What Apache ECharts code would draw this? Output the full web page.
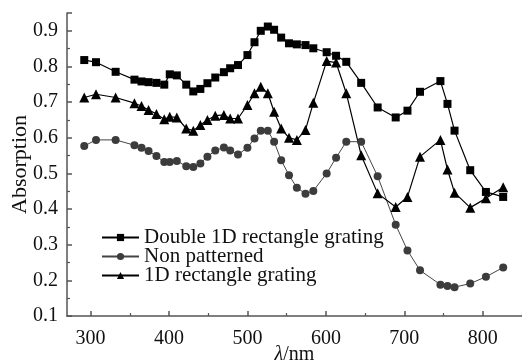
<!DOCTYPE html>
<html>
<head>
<meta charset="utf-8">
<script src="https://cdn.jsdelivr.net/npm/echarts@6/dist/echarts.min.js"></script>
<style>
  html, body { margin: 0; padding: 0; background: #fff; }
  #main { width: 522px; height: 363px; }
</style>
</head>
<body>
<div id="main"></div>
<script>
var wavelength = [292, 307, 332, 356, 365, 374, 384, 394, 401, 410, 422, 431,
    440, 449, 459, 470, 478, 488, 500, 509, 517, 526, 534, 543, 553, 563, 574, 584,
    601, 613, 626, 645, 666, 689, 704, 720, 746, 755, 764, 784, 804, 826];

var doubleGrating = [0.818, 0.812, 0.785, 0.763, 0.758, 0.756, 0.754, 0.749, 0.778, 0.775, 0.749, 0.730,
    0.737, 0.753, 0.769, 0.784, 0.795, 0.804, 0.832, 0.868, 0.900, 0.912, 0.903, 0.881, 0.865, 0.862, 0.860, 0.851,
    0.840, 0.830, 0.813, 0.754, 0.685, 0.657, 0.676, 0.729, 0.759, 0.695, 0.620, 0.509, 0.448, 0.434];

var nonPatterned = [0.577, 0.594, 0.594, 0.579, 0.572, 0.563, 0.549, 0.532, 0.532, 0.535, 0.520, 0.518,
    0.528, 0.547, 0.564, 0.573, 0.564, 0.553, 0.572, 0.598, 0.620, 0.620, 0.589, 0.537, 0.495, 0.460, 0.443, 0.451,
    0.500, 0.544, 0.589, 0.589, 0.492, 0.356, 0.284, 0.228, 0.188, 0.184, 0.181, 0.191, 0.210, 0.236];

var singleGrating = [0.713, 0.722, 0.713, 0.697, 0.689, 0.678, 0.667, 0.652, 0.659, 0.657, 0.626, 0.620,
    0.636, 0.650, 0.662, 0.664, 0.654, 0.654, 0.692, 0.725, 0.743, 0.725, 0.673, 0.626, 0.600, 0.594, 0.622, 0.698,
    0.815, 0.811, 0.725, 0.551, 0.444, 0.406, 0.434, 0.547, 0.594, 0.511, 0.446, 0.404, 0.430, 0.461];

var xMajorTicks = [300, 400, 500, 600, 700, 800];
var xMinorTicks = [350, 450, 550, 650, 750, 850];

function pairs(ys) {
    return wavelength.map(function (x, i) { return [x, ys[i]]; });
}

var font = 'Liberation Serif';
var chart = echarts.init(document.getElementById('main'));

var option = {
    backgroundColor: '#fff',
    animation: false,
    grid: { left: 67, right: 0, top: 13, bottom: 47, containLabel: false, outerBoundsMode: 'none' },
    legend: {
        orient: 'vertical',
        left: 96,
        top: 222,
        itemWidth: 37,
        itemHeight: 9,
        itemGap: -2,
        textStyle: { fontFamily: font, fontSize: 21, color: '#111', lineHeight: 19 },
        data: ['Double 1D rectangle grating', 'Non patterned', '1D rectangle grating']
    },
    xAxis: [{
        type: 'value',
        min: 270,
        max: 850,
        name: '{i|λ}/nm',
        nameLocation: 'middle',
        nameGap: 29,
        nameMoveOverlap: false,
        nameTextStyle: {
            fontFamily: font, fontSize: 20, color: '#111',
            rich: { i: { fontFamily: font, fontStyle: 'italic', fontSize: 20, color: '#111' } }
        },
        axisLine: { lineStyle: { color: '#555', width: 1.5 } },
        axisTick: { inside: true, length: 5, customValues: xMajorTicks, lineStyle: { color: '#555', width: 1.5 } },
        axisLabel: { customValues: xMajorTicks, margin: 13, fontFamily: font, fontSize: 20, color: '#111' },
        splitLine: { show: false }
    }, {
        type: 'value',
        position: 'bottom',
        min: 270,
        max: 850,
        axisLine: { show: false },
        axisTick: { inside: true, length: 3, customValues: xMinorTicks, lineStyle: { color: '#555', width: 1.2 } },
        axisLabel: { show: false },
        splitLine: { show: false }
    }],
    yAxis: {
        type: 'value',
        min: 0.1,
        max: 0.95,
        interval: 0.1,
        name: 'Absorption',
        nameLocation: 'middle',
        nameGap: 36,
        nameMoveOverlap: false,
        nameTextStyle: { fontFamily: font, fontSize: 22, color: '#111' },
        axisLine: { show: true, lineStyle: { color: '#555', width: 1.5 } },
        axisTick: { show: true, inside: true, length: 5, lineStyle: { color: '#555', width: 1.5 } },
        minorTick: { show: true, splitNumber: 2, length: 3, lineStyle: { color: '#555', width: 1.2 } },
        axisLabel: {
            showMaxLabel: false, margin: 9, fontFamily: font, fontSize: 20, color: '#111',
            formatter: function (v) { return v.toFixed(1); }
        },
        splitLine: { show: false }
    },
    series: [{
        name: 'Double 1D rectangle grating',
        type: 'line',
        data: pairs(doubleGrating),
        symbol: 'rect',
        symbolSize: 8,
        itemStyle: { color: '#000' },
        lineStyle: { color: '#000', width: 1.2 }
    }, {
        name: 'Non patterned',
        type: 'line',
        data: pairs(nonPatterned),
        symbol: 'circle',
        symbolSize: 8,
        itemStyle: { color: '#3c3c3c' },
        lineStyle: { color: '#444', width: 1 }
    }, {
        name: '1D rectangle grating',
        type: 'line',
        data: pairs(singleGrating),
        symbol: 'triangle',
        symbolSize: 10,
        itemStyle: { color: '#000' },
        lineStyle: { color: '#000', width: 1.2 }
    }]
};

chart.setOption(option);
</script>
</body>
</html>
